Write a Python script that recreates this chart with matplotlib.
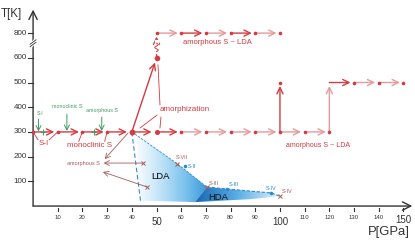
import numpy as np
import matplotlib
matplotlib.use('Agg')
import matplotlib.pyplot as plt
from matplotlib.patches import Polygon
from matplotlib.colors import LinearSegmentedColormap

plt.rcParams['font.family'] = ['Liberation Sans', 'DejaVu Sans']

# ---- data ----
# T values above 600 K are drawn on a broken axis: 700 in plot units means 800 K
x_ticks = [10, 20, 30, 40, 50, 60, 70, 80, 90, 100, 110, 120, 130, 140, 150]
x_big = [50, 100, 150]
y_ticks = [100, 200, 300, 400, 500, 600, 700]
y_tick_labels = ['100', '200', '300', '400', '500', '600', '800']

row300_p = [0, 10, 20, 30, 40, 50, 60, 70, 80, 90, 100, 110, 120]
row300_light = [False, False, False, False, False, False, True, True, True, True, True, True]
row500_p = [120, 130, 140, 150]
row500_light = [False, True, True]
row800_p = [50, 60, 70, 80, 90, 100]
row800_light = [True, False, True, False, True]

# phases (P, T)
lda_poly = [(40, 300), (58.3, 172), (70.4, 77), (65.6, 16), (43.5, 22)]
hda_poly = [(65.6, 16), (70.4, 77), (78.5, 69), (96.4, 53), (100, 40), (88, 28)]
red_x_p = [58.3, 70.4, 100.0, 44.5, 46.2]
red_x_t = [170, 77, 40, 174, 77]
red_x_lab = ['S-VII', 'S-III', 'S-IV', '', '']
blue_p = [61.5, 78.5, 96.4]
blue_t = [162, 69, 53]
blue_lab = ['S-II', 'S-III', 'S-IV']

RED = '#d63a40'
LIGHT = '#e59a9c'
GREEN = '#3c9c62'
BLUE = '#2b8bd2'
BROWN = '#a55a5a'
AXC = '#333333'

fig = plt.figure(figsize=(4.15, 2.52), dpi=100)
ax = fig.add_axes([0, 0, 1, 1])
ax.set_xlim(-13.4, 154.7)
ax.set_ylim(-186, 834)
ax.axis('off')


def arrow(p0, t0, p1, t1, color=RED, lw=1.0, sb=2.5, hl=0.45, hw=0.22):
    ax.annotate('', xy=(p1, t1), xytext=(p0, t0),
                arrowprops=dict(arrowstyle='->,head_length=%g,head_width=%g' % (hl, hw),
                                color=color, lw=lw, shrinkA=0, shrinkB=sb))


# ---- gradient fills ----
def gradient_fill(poly, colors, p0, p1, z):
    cmap = LinearSegmentedColormap.from_list('g', colors)
    xs = np.linspace(p0, p1, 200)
    img = np.tile(xs, (50, 1))
    im = ax.imshow(img, extent=[p0, p1, 0, 320], origin='lower', aspect='auto',
                   cmap=cmap, zorder=z, interpolation='bilinear')
    patch = Polygon(poly, closed=True, facecolor='none', edgecolor='none')
    ax.add_patch(patch)
    im.set_clip_path(patch)


gradient_fill(lda_poly, ['#f8fcfe', '#bfe3f7', '#7cc3ee', '#3796d8'], 42, 71, 1)
gradient_fill(hda_poly, ['#1565b0', '#5aaee6', '#e6f3fb'], 65, 100, 1.1)

# dashed phase borders
ax.plot([40, 43.5], [300, 22], ls=(0, (4, 2.5)), color=BLUE, lw=0.8, zorder=2)
ax.plot([40, 58.3, 70.4], [300, 172, 77], ls=(0, (3, 1.5)), color=BLUE, lw=0.6, zorder=2)
ax.plot([70.4, 78.5, 96.4, 100], [77, 69, 53, 40], ls=(0, (3, 1.5)), color=BLUE, lw=0.8, zorder=2)

# ---- axes ----
ax.annotate('', xy=(153.6, 0), xytext=(0, 0),
            arrowprops=dict(arrowstyle='->,head_length=0.6,head_width=0.3', color=AXC, lw=1.0,
                            shrinkA=0, shrinkB=0))
ax.annotate('', xy=(0, 795), xytext=(0, 0),
            arrowprops=dict(arrowstyle='->,head_length=0.6,head_width=0.3', color=AXC, lw=1.0,
                            shrinkA=0, shrinkB=0))
for p in x_ticks:
    ax.plot([p, p], [-6, -22], color=AXC, lw=0.8)
    if p in x_big:
        ty = -57 if p == 150 else -66
        ax.text(p, ty, str(p), ha='center', va='center', fontsize=7, color=AXC)
    else:
        ax.text(p, -45, str(p), ha='center', va='center', fontsize=4.3, color=AXC)
for t, lab in zip(y_ticks, y_tick_labels):
    ax.plot([-2.2, 0], [t, t], color=AXC, lw=0.8)
    ax.text(-2.6, t, lab, ha='right', va='center', fontsize=5.8, color=AXC)
# break mark on the T axis
ax.plot([-1.0, 1.0], [648, 670], color='white', lw=3, zorder=3)
for dy in (-5, 5):
    ax.plot([-1.2, 1.2], [650 + dy, 668 + dy], color=AXC, lw=0.6, zorder=4)
ax.text(-13, 778, 'T[K]', ha='left', va='center', fontsize=8.3, color=AXC)
ax.text(152.6, -105, 'P[GPa]', ha='right', va='center', fontsize=9.4, color=AXC)

# ---- transition paths ----
for i in range(len(row300_p) - 1):
    c = LIGHT if row300_light[i] else RED
    sb = 3.5 if row300_p[i + 1] in (40, 50) else 2.5
    arrow(row300_p[i], 300, row300_p[i + 1], 300, c, sb=sb)
for i in range(len(row500_p) - 1):
    arrow(row500_p[i], 500, row500_p[i + 1], 500, LIGHT if row500_light[i] else RED)
for i in range(len(row800_p) - 1):
    arrow(row800_p[i], 700, row800_p[i + 1], 700, LIGHT if row800_light[i] else RED)
arrow(100, 300, 100, 500, RED)
arrow(120, 300, 120, 500, LIGHT)
arrow(50, 600, 50, 700, RED)
arrow(40, 300, 50, 600, RED, sb=3.5)
# squiggle on the 50 GPa riser
ax.plot([50, 50], [622, 662], color='white', lw=3, zorder=4)
sq = np.linspace(0, 1, 30)
ax.plot(50 + 0.7 * np.sin(sq * 3 * np.pi), 625 + 34 * sq, color=RED, lw=0.7, zorder=5)

dot_p = row300_p + row500_p[1:] + row800_p + [100]
dot_t = [300] * len(row300_p) + [500] * (len(row500_p) - 1) + [700] * len(row800_p) + [500]
ax.plot(dot_p, dot_t, 'o', ms=2.6, color=RED, mec='none', zorder=6)
ax.plot([40], [300], 'o', ms=4.2, color=RED, mec='none', zorder=6)
ax.plot([50], [300], 'o', ms=3.6, color=RED, mec='none', zorder=6)
ax.plot([50], [600], 'o', ms=4.0, color=RED, mec='none', zorder=6)

# ---- red labels ----
ax.text(4.2, 254, 'S-I', ha='center', va='center', fontsize=5.8, color=RED)
ax.plot([0, 2.0], [300, 268], color=RED, lw=0.6)
ax.plot([10, 6.5], [300, 268], color=RED, lw=0.6)
ax.text(23, 247, 'monoclinic S', ha='center', va='center', fontsize=5.8, color=RED)
ax.plot([20, 18.5], [300, 262], color=RED, lw=0.6)
ax.plot([30, 29], [300, 262], color=RED, lw=0.6)
ax.text(51.4, 389, 'amorphization', ha='left', va='center', fontsize=5.8, color=RED)
ax.plot([50.6, 51.4], [571, 409], color=RED, lw=0.6)
ax.plot([43.3, 50.2], [316, 368], color=RED, lw=0.6)
ax.plot([51.4, 51.8], [316, 360], color=RED, lw=0.6)
ax.text(74.6, 660, 'amorphous S ~ LDA', ha='center', va='center', fontsize=5.5, color=RED)
ax.text(115.5, 247, 'amorphous S ~ LDA', ha='center', va='center', fontsize=5.0, color=RED)

# ---- green (low pressure) labels ----
ax.text(2.8, 376, 'S-I', ha='center', va='center', fontsize=3.8, color=GREEN)
arrow(2.2, 352, 2.2, 302, GREEN, lw=0.7, sb=0, hl=0.35, hw=0.18)
ax.text(14, 402, 'monoclinic S', ha='center', va='center', fontsize=3.8, color=GREEN)
arrow(13.7, 372, 13.7, 304, GREEN, lw=0.7, sb=0, hl=0.35, hw=0.18)
ax.text(27.7, 386, 'amorphous S', ha='center', va='center', fontsize=3.8, color=GREEN)
arrow(27.8, 360, 27.8, 304, GREEN, lw=0.7, sb=0, hl=0.35, hw=0.18)
ax.plot([4, 24.7], [300, 300], '+', ms=4, mew=0.7, color=GREEN, zorder=5)

# ---- amorphous S from decompression ----
ax.text(20.4, 174, 'amorphous S', ha='center', va='center', fontsize=4.0, color=BROWN)
arrow(38.5, 296, 29.0, 190, BROWN, lw=0.6, sb=0, hl=0.35, hw=0.18)
arrow(44.5, 174, 28.6, 174, BROWN, lw=0.6, sb=0, hl=0.35, hw=0.18)
arrow(46.2, 77, 28.3, 138, BROWN, lw=0.6, sb=0, hl=0.35, hw=0.18)

# ---- structures at low T ----
ax.plot(red_x_p, red_x_t, 'x', ms=2.6, mew=0.7, color=BROWN, zorder=6)
ax.plot(blue_p, blue_t, 'o', ms=2.6, color=BLUE, mec='none', zorder=6)
red_lab_pos = [(57.9, 198), (71.3, 93), (100.8, 57)]
for lab, (p, t) in zip(red_x_lab[:3], red_lab_pos):
    ax.text(p, t, lab, ha='left', va='center', fontsize=4.0, color=BROWN)
blue_lab_pos = [(62.8, 162), (79.4, 89), (94.3, 69)]
for lab, (p, t) in zip(blue_lab, blue_lab_pos):
    ax.text(p, t, lab, ha='left', va='center', fontsize=4.0, color=BLUE)
ax.text(51.8, 121, 'LDA', ha='center', va='center', fontsize=6.8, color='black', zorder=7)
ax.text(74.9, 36, 'HDA', ha='center', va='center', fontsize=6.8, color='#111111', zorder=7)

fig.savefig('out.png', dpi=100)
